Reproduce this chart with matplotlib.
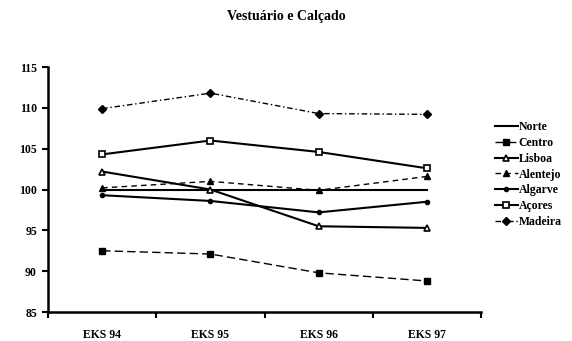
import matplotlib.pyplot as plt

# índices por região, 1994-1997
anos = ['EKS 94', 'EKS 95', 'EKS 96', 'EKS 97']
norte = [100.0, 100.0, 100.0, 100.0]
centro = [92.5, 92.1, 89.8, 88.8]
lisboa = [102.2, 100.0, 95.5, 95.3]
alentejo = [100.2, 101.0, 99.9, 101.6]
algarve = [99.3, 98.6, 97.2, 98.5]
acores = [104.3, 106.0, 104.6, 102.6]
madeira = [109.9, 111.8, 109.3, 109.2]

plt.rcParams['font.family'] = ['Liberation Serif', 'DejaVu Serif']
plt.rcParams['font.weight'] = 'bold'

dpi = 100
fig = plt.figure(figsize=(572 / dpi, 341 / dpi), dpi=dpi)
ax = fig.add_axes([0.084, 0.085, 0.757, 0.7185])

xs = range(len(anos))
ax.plot(xs, norte, color='black', lw=1.5, label='Norte')
ax.plot(xs, centro, color='black', lw=1, ls=(0, (6, 3)), marker='s', ms=5,
        label='Centro')
ax.plot(xs, lisboa, color='black', lw=1.5, marker='^', ms=5, mfc='white',
        mew=1.2, label='Lisboa')
ax.plot(xs, alentejo, color='black', lw=1, ls=(0, (4, 3)), marker='^', ms=4,
        label='Alentejo')
ax.plot(xs, algarve, color='black', lw=1.5, marker='o', ms=3,
        label='Algarve')
ax.plot(xs, acores, color='black', lw=1.5, marker='s', ms=5, mfc='white',
        mew=1.2, label='Açores')
ax.plot(xs, madeira, color='black', lw=1, ls=(0, (4, 2, 1, 2)), marker='D',
        ms=4, label='Madeira')

ax.set_xlim(-0.5, 3.5)
ax.set_ylim(85, 115)
ax.set_yticks(range(85, 116, 5))
ax.set_xticks([-0.5, 0.5, 1.5, 2.5, 3.5])
ax.set_xticklabels([])
ax.set_xticks(list(xs), minor=True)
ax.set_xticklabels(anos, minor=True)
ax.tick_params(axis='x', which='minor', length=0, pad=12, labelsize=8.5)
ax.tick_params(axis='x', which='major', length=4, width=1.5)
ax.tick_params(axis='y', length=4, width=1.5, labelsize=8.5, pad=4)
for s in ['top', 'right']:
    ax.spines[s].set_visible(False)
for s in ['left', 'bottom']:
    ax.spines[s].set_linewidth(1.8)

fig.text(0.5, 0.953, 'Vestuário e Calçado', ha='center', va='center',
         fontsize=10, fontweight='bold')

ax.legend(loc='center left', bbox_to_anchor=(1.0, 0.561), frameon=False,
          fontsize=8.5, handlelength=1.9, handletextpad=0.1,
          labelspacing=0.32, borderaxespad=0.8)

fig.savefig('out.png', dpi=dpi)
